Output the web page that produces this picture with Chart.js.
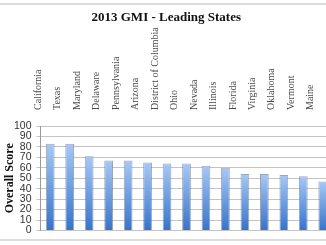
<!DOCTYPE html>
<html>
<head>
<meta charset="utf-8">
<script src="https://cdn.jsdelivr.net/npm/chart.js@4"></script>
<style>
  html, body { margin: 0; padding: 0; background: #fff; overflow: hidden; }
  #wrap { position: relative; width: 326px; height: 245px; overflow: hidden; }
  #wrap canvas { position: absolute; left: 0; top: 0; }
  .rule { position: absolute; left: 0; width: 326px; height: 2px; background: #dcdcdc; }
</style>
</head>
<body>
<div id="wrap">
  <canvas id="gmiChart" width="340" height="245"></canvas>
  <div class="rule" style="top:3px"></div>
  <div class="rule" style="top:239px"></div>
</div>
<script>
// Data
var states = ['California', 'Texas', 'Maryland', 'Delaware', 'Pennsylvania', 'Arizona',
    'District of Columbia', 'Ohio', 'Nevada', 'Illinois', 'Florida', 'Virginia',
    'Oklahoma', 'Vermont', 'Maine'];
var scores = [83, 83, 71, 67, 67, 65, 64, 64, 62, 60, 54, 54, 53, 52, 47];
var scoreTicks = [0, 10, 20, 30, 40, 50, 60, 70, 80, 90, 100];

// Light-to-dark gradient on every bar, like the Excel fill
function barFill(ctx) {
    var chart = ctx.chart;
    if (!chart.chartArea || ctx.type !== 'data') return '#6c9fe2';
    var y = chart.scales.y;
    var top = y.getPixelForValue(ctx.raw);
    var bottom = y.getPixelForValue(0);
    var g = chart.ctx.createLinearGradient(0, top, 0, bottom);
    g.addColorStop(0, '#a6c8f6');
    g.addColorStop(1, '#3873c9');
    return g;
}

var ctx = document.getElementById('gmiChart').getContext('2d');
var gmiChart = new Chart(ctx, {
    type: 'bar',
    data: {
        labels: states,
        datasets: [{
            data: scores,
            backgroundColor: barFill,
            borderColor: 'rgba(110,130,160,0.7)',
            borderWidth: 1,
            barPercentage: 0.45,
            categoryPercentage: 1
        }]
    },
    options: {
        responsive: false,
        animation: false,
        layout: { padding: { top: 0, right: 7.5, bottom: 14.5, left: 0 } },
        plugins: {
            legend: { display: false },
            tooltip: { enabled: false },
            title: {
                display: true,
                text: '2013 GMI - Leading States',
                color: '#111',
                font: { family: 'Liberation Serif', size: 13, weight: 'bold' },
                padding: { top: 10, bottom: 0 }
            }
        },
        scales: {
            x: {
                position: 'top',
                grid: { display: false },
                border: { display: false },
                ticks: {
                    autoSkip: false,
                    minRotation: 90,
                    maxRotation: 90,
                    padding: 8,
                    color: '#4a4a4a',
                    font: { family: 'Liberation Serif', size: 10 }
                },
                afterFit: function (scale) { scale.height = 100.4; }
            },
            y: {
                min: 0,
                max: 100,
                afterBuildTicks: function (scale) {
                    scale.ticks = scoreTicks.map(function (v) { return { value: v }; });
                },
                grid: { color: '#c4c4c4', tickLength: 4 },
                border: { color: '#9a9a9a' },
                ticks: {
                    autoSkip: false,
                    padding: 5,
                    color: '#333',
                    font: { family: 'Liberation Sans', size: 10.5 }
                },
                title: {
                    display: true,
                    text: 'Overall Score',
                    color: '#111',
                    font: { family: 'Liberation Serif', size: 12, weight: 'bold' },
                    padding: { top: 3, bottom: 0 }
                },
                afterFit: function (scale) { scale.width = 40.5; }
            }
        }
    }
});
</script>
</body>
</html>
